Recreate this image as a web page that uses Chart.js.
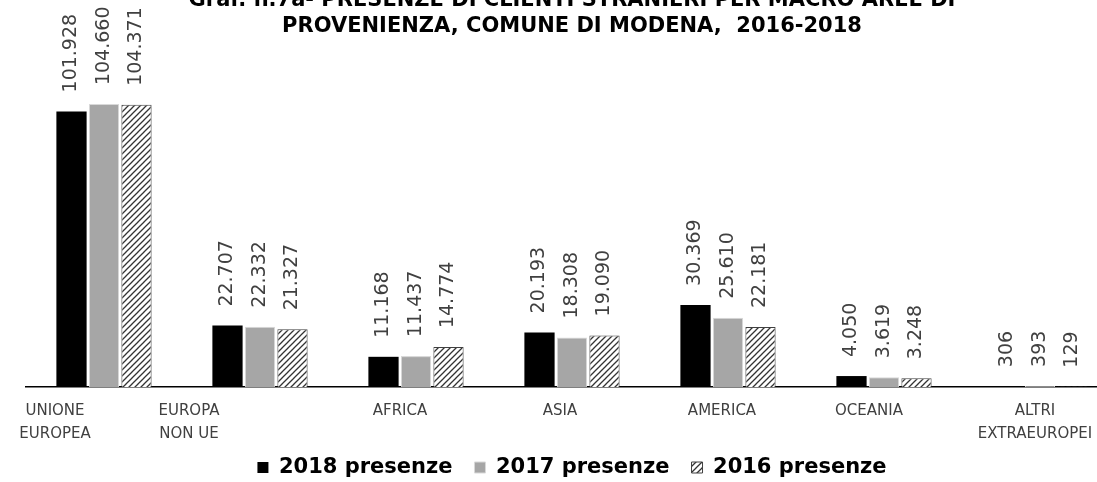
<!DOCTYPE html>
<html>
<head>
<meta charset="utf-8">
<script src="https://cdn.jsdelivr.net/npm/chart.js@4/dist/chart.umd.min.js"></script>
<style>
  html, body { margin: 0; padding: 0; background: #fff; overflow: hidden; }
  #wrap { width: 1097px; height: 482px; overflow: hidden; }
</style>
</head>
<body>
<div id="wrap"><canvas id="myChart" width="1118" height="488"></canvas></div>
<script>
// Presenze di clienti stranieri per macro aree di provenienza
const categorie = [
  ['UNIONE', 'EUROPEA'],
  ['EUROPA', 'NON UE'],
  ['AFRICA'],
  ['ASIA'],
  ['AMERICA'],
  ['OCEANIA'],
  ['ALTRI', 'EXTRAEUROPEI']
];
const presenze2018 = [101928, 22707, 11168, 20193, 30369, 4050, 306];
const presenze2017 = [104660, 22332, 11437, 18308, 25610, 3619, 393];
const presenze2016 = [104371, 21327, 14774, 19090, 22181, 3248, 129];

// spostamento orizzontale delle etichette di categoria (px)
const spostaEtichette = [-49, -71, -16, -12, -6, -15, -5];

// tratteggio diagonale per la serie 2016
function tratteggio() {
  const c = document.createElement('canvas');
  c.width = 6; c.height = 6;
  const g = c.getContext('2d');
  g.fillStyle = '#fff';
  g.fillRect(0, 0, 6, 6);
  g.strokeStyle = '#333';
  g.lineWidth = 1.3;
  g.beginPath();
  g.moveTo(-1, 7); g.lineTo(7, -1);
  g.moveTo(-4, 4); g.lineTo(4, -4);
  g.moveTo(2, 10); g.lineTo(10, 2);
  g.stroke();
  return g.createPattern(c, 'repeat');
}

function formatta(n) {
  return String(n).replace(/\B(?=(\d{3})+(?!\d))/g, '.');
}

// valori sopra le barre, ruotati in verticale
const etichetteValori = {
  id: 'etichetteValori',
  afterDatasetsDraw(chart) {
    const ctx = chart.ctx;
    ctx.save();
    ctx.font = '19px "DejaVu Sans"';
    ctx.fillStyle = '#404040';
    chart.data.datasets.forEach((ds, i) => {
      chart.getDatasetMeta(i).data.forEach((bar, j) => {
        ctx.save();
        ctx.translate(bar.x, bar.y - 19);
        ctx.rotate(-Math.PI / 2);
        ctx.textAlign = 'left';
        ctx.textBaseline = 'middle';
        ctx.fillText(formatta(ds.data[j]), 0, 0);
        ctx.restore();
      });
    });
    ctx.restore();
  }
};

// etichette dell'asse x disegnate a mano
const etichetteAsse = {
  id: 'etichetteAsse',
  afterDraw(chart) {
    const ctx = chart.ctx;
    const x = chart.scales.x;
    ctx.save();
    ctx.font = '15px "DejaVu Sans"';
    ctx.fillStyle = '#404040';
    ctx.textAlign = 'center';
    ctx.textBaseline = 'middle';
    categorie.forEach((righe, i) => {
      const px = x.getPixelForValue(i) + spostaEtichette[i];
      righe.forEach((testo, r) => {
        ctx.fillText(testo, px, x.top + 24 + r * 23);
      });
    });
    ctx.restore();
  }
};

const ctx = document.getElementById('myChart').getContext('2d');
const myChart = new Chart(ctx, {
  type: 'bar',
  data: {
    labels: categorie,
    datasets: [{
      label: '2018 presenze',
      data: presenze2018,
      backgroundColor: '#000',
      borderWidth: 0
    }, {
      label: '2017 presenze',
      data: presenze2017,
      backgroundColor: '#a6a6a6',
      borderColor: '#d9d9d9',
      borderWidth: 1
    }, {
      label: '2016 presenze',
      data: presenze2016,
      backgroundColor: tratteggio(),
      borderColor: '#404040',
      borderWidth: 1
    }]
  },
  options: {
    responsive: false,
    animation: false,
    categoryPercentage: 0.625,
    barPercentage: 0.93,
    layout: { padding: { left: 26, right: 0, top: 0, bottom: 0 } },
    scales: {
      x: {
        grid: { display: false },
        border: { color: '#000', width: 1.5 },
        ticks: { display: false },
        afterFit(scale) { scale.height = 48; }
      },
      y: {
        display: false,
        min: 0,
        max: 125400
      }
    },
    plugins: {
      title: {
        display: true,
        text: ['Graf. n.7a- PRESENZE DI CLIENTI STRANIERI PER MACRO AREE DI', 'PROVENIENZA, COMUNE DI MODENA,  2016-2018'],
        color: '#000',
        font: { size: 21, weight: 'bold', family: 'DejaVu Sans', lineHeight: '26px' },
        padding: { top: -12, bottom: 8 }
      },
      legend: {
        position: 'bottom',
        labels: {
          color: '#000',
          boxWidth: 11,
          boxHeight: 11,
          padding: 22,
          font: { size: 21, weight: 'bold', family: 'DejaVu Sans' }
        }
      },
      tooltip: { enabled: false }
    }
  },
  plugins: [etichetteValori, etichetteAsse]
});
</script>
</body>
</html>
